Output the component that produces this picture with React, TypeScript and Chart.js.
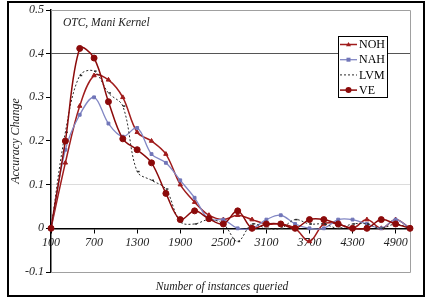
import React, { useEffect, useRef } from "react";
import { Chart, registerables } from "chart.js";

Chart.register(...registerables);

// Number of instances queried (category axis)
const categories = [
  "100", "300", "500", "700", "900", "1100", "1300", "1500", "1700", "1900",
  "2100", "2300", "2500", "2700", "2900", "3100", "3300", "3500", "3700", "3900",
  "4100", "4300", "4500", "4700", "4900", "5100",
];

// Accuracy change per method
const nohValues = [
  0, 0.15, 0.28, 0.35, 0.34, 0.30, 0.22, 0.20, 0.17, 0.10,
  0.06, 0.03, 0.02, 0.03, 0.02, 0.01, 0.01, 0.0, -0.03, 0.01,
  0.01, 0.0, 0.02, 0.0, 0.02, 0,
];
const nahValues = [
  0, 0.18, 0.26, 0.30, 0.24, 0.21, 0.23, 0.17, 0.15, 0.11,
  0.07, 0.02, 0.02, 0.0, 0.0, 0.02, 0.03, 0.01, 0.0, 0.0,
  0.02, 0.02, 0.01, 0.0, 0.02, 0,
];
const lvmValues = [
  0, 0.22, 0.35, 0.36, 0.31, 0.28, 0.13, 0.11, 0.09, 0.015,
  0.01, 0.02, 0.01, -0.03, 0.01, 0.0, 0.0, 0.02, 0.01, 0.01,
  0.0, 0.01, 0.01, 0.0, 0.01, 0,
];
const veValues = [
  0, 0.20, 0.412, 0.39, 0.29, 0.205, 0.18, 0.15, 0.08, 0.02,
  0.04, 0.022, 0.01, 0.04, 0.0, 0.01, 0.01, 0.0, 0.02, 0.02,
  0.01, 0.0, 0.0, 0.02, 0.01, 0,
];

const yTickValues = [0.5, 0.4, 0.3, 0.2, 0.1, 0, -0.1];

const SERIF = "'Liberation Serif', 'DejaVu Serif', serif";

const decorPlugin = {
  id: "decor",
  beforeDatasetsDraw(chart: any) {
    const { ctx, chartArea } = chart;
    ctx.save();
    // light plot-area border (top, right, bottom)
    ctx.strokeStyle = "#a0a0a0";
    ctx.lineWidth = 1;
    ctx.beginPath();
    ctx.moveTo(chartArea.left, chartArea.top + 0.5);
    ctx.lineTo(chartArea.right + 0.5, chartArea.top + 0.5);
    ctx.lineTo(chartArea.right + 0.5, chartArea.bottom + 0.5);
    ctx.lineTo(chartArea.left, chartArea.bottom + 0.5);
    ctx.stroke();
    // chart title inside the plot
    ctx.fillStyle = "#222";
    ctx.font = `italic 11.5px ${SERIF}`;
    ctx.textAlign = "left";
    ctx.textBaseline = "middle";
    ctx.fillText("OTC, Mani Kernel", 63, 23);
    ctx.restore();
  },
  afterDraw(chart: any) {
    const { ctx } = chart;
    ctx.save();
    // x-axis title
    ctx.fillStyle = "#222";
    ctx.font = `italic 11.5px ${SERIF}`;
    ctx.textAlign = "center";
    ctx.textBaseline = "middle";
    ctx.fillText("Number of instances queried", 222, 287);

    // legend box
    const bx = 338, by = 36, bw = 49, bh = 61;
    ctx.fillStyle = "#fff";
    ctx.fillRect(bx, by, bw, bh);
    ctx.strokeStyle = "#000";
    ctx.lineWidth = 1;
    ctx.strokeRect(bx + 0.5, by + 0.5, bw, bh);
    chart.data.datasets.forEach((ds: any, i: number) => {
      const y = 44.5 + i * 15.2;
      ctx.save();
      ctx.strokeStyle = ds.borderColor;
      ctx.lineWidth = ds.borderWidth;
      ctx.setLineDash(ds.borderDash || []);
      ctx.beginPath();
      ctx.moveTo(340, y);
      ctx.lineTo(357, y);
      ctx.stroke();
      ctx.setLineDash([]);
      const mx = 348.5;
      ctx.fillStyle = ds.pointBackgroundColor;
      ctx.strokeStyle = ds.pointBorderColor;
      const r = ds.pointRadius;
      if (ds.pointStyle === "circle") {
        ctx.beginPath();
        ctx.arc(mx, y, r, 0, Math.PI * 2);
        ctx.fill();
      } else if (ds.pointStyle === "rect") {
        ctx.fillRect(mx - r, y - r, r * 2, r * 2);
      } else if (ds.pointStyle === "triangle") {
        ctx.beginPath();
        ctx.moveTo(mx, y - r);
        ctx.lineTo(mx + r, y + r * 0.7);
        ctx.lineTo(mx - r, y + r * 0.7);
        ctx.closePath();
        ctx.fill();
      }
      ctx.restore();
      ctx.fillStyle = "#000";
      ctx.font = `12px ${SERIF}`;
      ctx.textAlign = "left";
      ctx.textBaseline = "middle";
      ctx.fillText(ds.label, 359, y + 0.5);
    });

    // outer frame
    ctx.strokeStyle = "#000";
    ctx.lineWidth = 2;
    ctx.strokeRect(8, 2, 416, 294);
    ctx.restore();
  },
};

export default function App() {
  const canvasRef = useRef<HTMLCanvasElement | null>(null);

  useEffect(() => {
    const canvas = canvasRef.current;
    if (!canvas) return;
    const chart = new Chart(canvas, {
      type: "line",
      data: {
        labels: categories,
        datasets: [
          {
            label: "NOH",
            data: nohValues,
            borderColor: "#a01c1c",
            borderWidth: 1.5,
            pointStyle: "triangle",
            pointRadius: 2.5,
            pointBackgroundColor: "#a01c1c",
            pointBorderColor: "#a01c1c",
            pointBorderWidth: 1,
            tension: 0.35,
            clip: false,
            order: 4,
          },
          {
            label: "NAH",
            data: nahValues,
            borderColor: "#8287c4",
            borderWidth: 1.3,
            pointStyle: "rect",
            pointRadius: 2,
            pointBackgroundColor: "#7176b8",
            pointBorderColor: "#7176b8",
            pointBorderWidth: 1,
            tension: 0.35,
            clip: false,
            order: 3,
          },
          {
            label: "LVM",
            data: lvmValues,
            borderColor: "#2a2a2a",
            borderWidth: 1,
            borderDash: [2, 2],
            pointStyle: "dash",
            pointRadius: 2.5,
            pointBackgroundColor: "#2a2a2a",
            pointBorderColor: "#2a2a2a",
            pointBorderWidth: 1.5,
            tension: 0.35,
            clip: false,
            order: 2,
          },
          {
            label: "VE",
            data: veValues,
            borderColor: "#8b0a0a",
            borderWidth: 1.5,
            pointStyle: "circle",
            pointRadius: 3,
            pointBackgroundColor: "#8b0a0a",
            pointBorderColor: "#8b0a0a",
            pointBorderWidth: 1,
            tension: 0.35,
            clip: false,
            order: 1,
          },
        ],
      },
      options: {
        responsive: false,
        animation: false,
        devicePixelRatio: 1,
        layout: { padding: { left: 7, top: 10, right: 19, bottom: 28 } },
        plugins: {
          legend: { display: false },
          tooltip: { enabled: false },
        },
        scales: {
          x: {
            type: "category",
            position: { y: 0 } as any,
            offset: false,
            grid: {
              drawOnChartArea: false,
              drawTicks: true,
              tickLength: 4,
              tickColor: (c: any) => (c.index % 3 === 0 ? "#000" : "rgba(0,0,0,0)"),
            },
            border: { display: true, color: "#000", width: 1.5 },
            ticks: {
              autoSkip: false,
              maxRotation: 0,
              padding: 3,
              color: "#222",
              font: { family: SERIF, size: 12, style: "italic" },
              callback: (_v: any, i: number) => (i % 3 === 0 ? categories[i] : ""),
            },
          },
          y: {
            min: -0.1,
            max: 0.5,
            afterFit: (s: any) => {
              s.width = 44;
            },
            afterBuildTicks: (s: any) => {
              s.ticks = yTickValues.map((v) => ({ value: v }));
            },
            grid: {
              drawTicks: true,
              tickLength: 5,
              tickColor: "#000",
              lineWidth: 1,
              color: (c: any) => {
                const v = c.tick ? Math.round(c.tick.value * 10) / 10 : NaN;
                if (v === 0.4) return "#555";
                if (v === 0.1) return "#dcdcdc";
                return "rgba(0,0,0,0)";
              },
            },
            border: { display: true, color: "#000", width: 1.5 },
            ticks: {
              padding: 2,
              color: "#222",
              font: { family: SERIF, size: 12, style: "italic" },
              callback: (v: any) => {
                const n = Math.round(Number(v) * 10) / 10;
                return n === 0 ? "0" : n.toFixed(1);
              },
            },
            title: {
              display: true,
              text: "Accuracy Change",
              color: "#222",
              font: { family: SERIF, size: 12, style: "italic" },
              padding: { top: 2, bottom: 0 },
            },
          },
        },
      },
      plugins: [decorPlugin],
    });
    return () => chart.destroy();
  }, []);

  return (
    <div style={{ position: "absolute", left: 0, top: 0, width: 429, height: 300, background: "#fff" }}>
      <canvas ref={canvasRef} width={429} height={300} style={{ display: "block" }} />
    </div>
  );
}
